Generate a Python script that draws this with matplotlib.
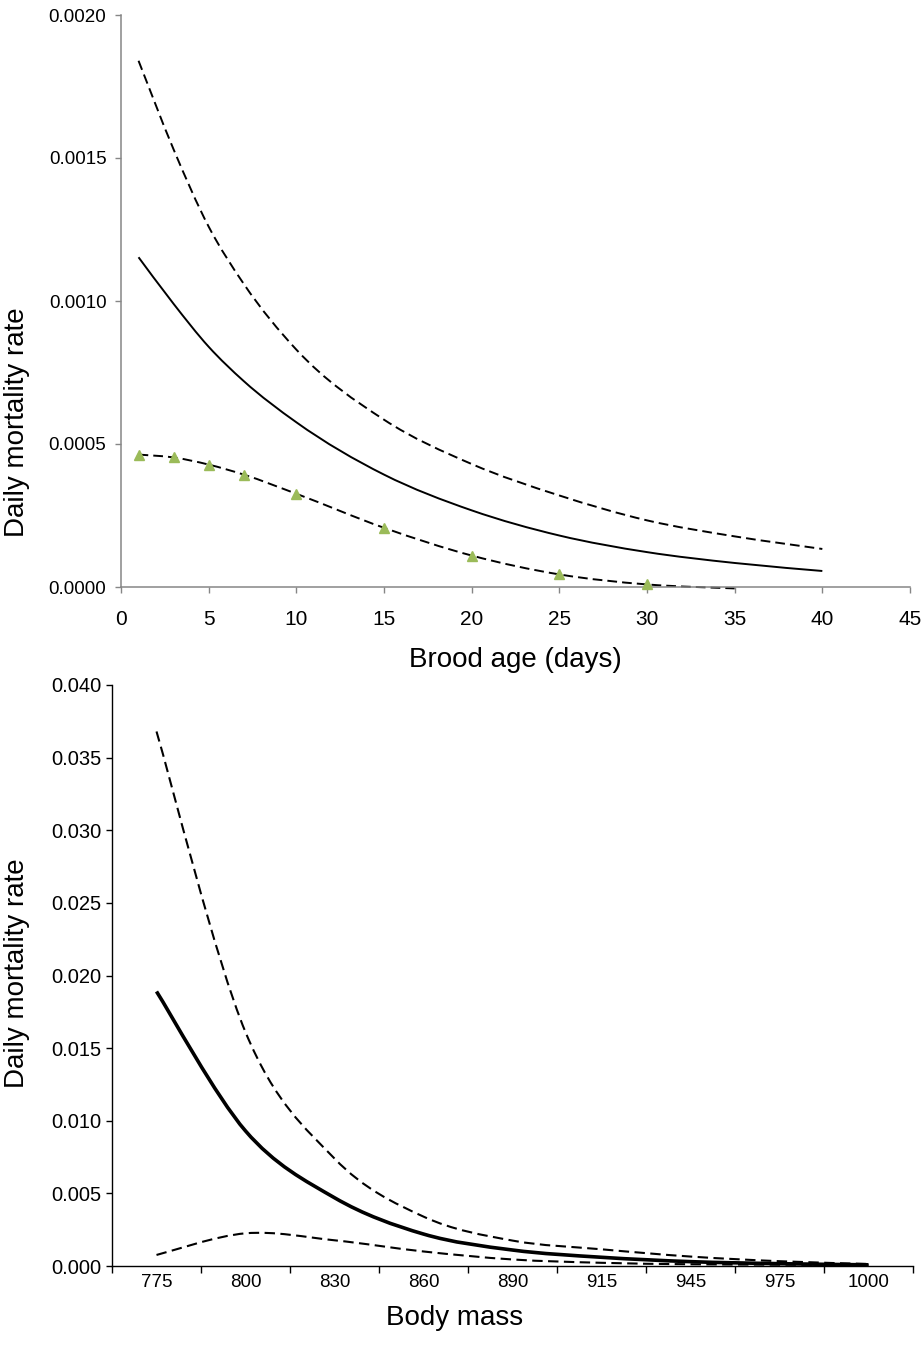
import numpy as np
import matplotlib
matplotlib.use("Agg")
import matplotlib.pyplot as plt
from matplotlib.path import Path
from matplotlib.patches import PathPatch

# ---------------- data ----------------
# Top panel: brood age (days)
brood_age = [1, 3, 5, 7, 10, 15, 20, 25, 30, 35, 40]
upper_age = [0.00184, 0.00153, 0.00126, 0.00106, 0.00083, 0.000585, 0.00043,
             0.00032, 0.000233, 0.000177, 0.000133]
mean_age = [0.001153, 0.00099, 0.00084, 0.00072, 0.000576, 0.000393, 0.000268,
            0.00018, 0.000122, 0.000084, 0.000056]
lower_age_x = [1, 3, 5, 7, 10, 15, 20, 25, 30, 35]
lower_age = [0.000463, 0.000453, 0.000428, 0.000393, 0.000326, 0.000207,
             0.00011, 0.000044, 0.000009, -0.000005]
marker_age_x = [1, 3, 5, 7, 10, 15, 20, 25, 30]
marker_age = [0.000463, 0.000453, 0.000428, 0.000393, 0.000326, 0.000207,
              0.00011, 0.000044, 0.000009]
top_xticks = [0, 5, 10, 15, 20, 25, 30, 35, 40, 45]
top_yticks = [0.0, 0.0005, 0.0010, 0.0015, 0.0020]

# Bottom panel: body mass (category axis)
body_mass = ['775', '800', '830', '860', '890', '915', '945', '975', '1000']
upper_mass = [0.0368, 0.0161, 0.0074, 0.0034, 0.00175, 0.00115, 0.00065,
              0.00033, 0.00014]
mean_mass = [0.0189, 0.0093, 0.0047, 0.0022, 0.0011, 0.0006, 0.0003,
             0.00016, 0.00008]
lower_mass = [0.00076, 0.00225, 0.00177, 0.0010, 0.00045, 0.00022, 0.00012,
              0.00009, 0.00007]
bottom_yticks = [0.0, 0.005, 0.010, 0.015, 0.020, 0.025, 0.030, 0.035, 0.040]

plt.rcParams['font.family'] = ['Liberation Sans', 'DejaVu Sans']


def smooth_path(xs, ys):
    """Smoothed line through the data points, drawn as cubic Bezier segments."""
    x = np.asarray(xs, float)
    y = np.asarray(ys, float)
    n = len(x)
    h = np.diff(x)
    sec = np.diff(y) / h
    m = np.zeros(n)
    for i in range(1, n - 1):
        m[i] = (sec[i - 1] * h[i] + sec[i] * h[i - 1]) / (h[i - 1] + h[i])
    verts = [(x[0], y[0])]
    codes = [Path.MOVETO]
    for i in range(n - 1):
        if i == 0:
            c1 = (x[0] + h[0] / 6, y[0] + (y[1] - y[0]) / 6)
        else:
            c1 = (x[i] + h[i] / 3, y[i] + m[i] * h[i] / 3)
        if i == n - 2:
            c2 = (x[-1] - h[i] / 6, y[-1] - (y[-1] - y[-2]) / 6)
        else:
            c2 = (x[i + 1] - h[i] / 3, y[i + 1] - m[i + 1] * h[i] / 3)
        verts += [c1, c2, (x[i + 1], y[i + 1])]
        codes += [Path.CURVE4] * 3
    return Path(verts, codes)


def draw_smooth(ax, xs, ys, lw, ls):
    patch = PathPatch(smooth_path(xs, ys), facecolor='none', edgecolor='black',
                      lw=lw, linestyle=ls, transform=ax.transData,
                      capstyle='butt', joinstyle='round', clip_on=False)
    ax.add_patch(patch)


W, H = 923, 1348
fig = plt.figure(figsize=(W / 100, H / 100), dpi=100)


def rect(l, t, r, b):
    return [l / W, 1 - b / H, (r - l) / W, (b - t) / H]


dash = (0, (5, 2.6))

# ---------------- top panel ----------------
ax1 = fig.add_axes(rect(121, 15, 910, 587))
ax1.set_xlim(0, 45)
ax1.set_ylim(0, 0.0020)
draw_smooth(ax1, brood_age, upper_age, 1.4, dash)
draw_smooth(ax1, brood_age, mean_age, 1.4, '-')
draw_smooth(ax1, lower_age_x, lower_age, 1.4, dash)
ax1.plot(marker_age_x, marker_age, ls='none', marker='^', ms=6.5,
         color='#9BBB59', mec='#9BBB59', zorder=4, clip_on=False)
ax1.set_xticks(top_xticks)
ax1.set_yticks(top_yticks)
ax1.set_yticklabels([f'{v:.4f}' for v in top_yticks])
for s in ['top', 'right']:
    ax1.spines[s].set_visible(False)
for s in ['left', 'bottom']:
    ax1.spines[s].set_color('#868686')
    ax1.spines[s].set_linewidth(1.1)
ax1.tick_params(axis='y', direction='out', length=4.5, width=1.0,
                color='#868686', labelsize=13.5, pad=6)
ax1.tick_params(axis='x', direction='out', length=4.5, width=1.0,
                color='#868686', labelsize=15, pad=12)

# ---------------- bottom panel ----------------
ax2 = fig.add_axes(rect(112, 685, 913, 1266))
pos = np.arange(len(body_mass))
ax2.set_xlim(-0.5, len(body_mass) - 0.5)
ax2.set_ylim(0, 0.040)
draw_smooth(ax2, pos, upper_mass, 1.5, dash)
draw_smooth(ax2, pos, mean_mass, 2.6, '-')
draw_smooth(ax2, pos, lower_mass, 1.5, dash)
ax2.set_xticks(pos)
ax2.set_xticklabels(body_mass)
ax2.set_xticks(np.arange(len(body_mass) + 1) - 0.5, minor=True)
ax2.tick_params(axis='x', which='major', length=0, pad=6, labelsize=13.5)
ax2.tick_params(axis='x', which='minor', direction='out', length=5, width=1.0)
ax2.set_yticks(bottom_yticks)
ax2.set_yticklabels([f'{v:.3f}' for v in bottom_yticks])
ax2.tick_params(axis='y', direction='out', length=4.5, width=1.0, labelsize=14.5, pad=3)
for s in ['top', 'right']:
    ax2.spines[s].set_visible(False)
for s in ['left', 'bottom']:
    ax2.spines[s].set_color('black')
    ax2.spines[s].set_linewidth(1.0)

# ---------------- axis labels ----------------
fig.text(515 / W, 1 - 660 / H, 'Brood age (days)', ha='center', va='center',
         fontsize=20)
fig.text(455 / W, 1 - 1318 / H, 'Body mass', ha='center', va='center',
         fontsize=20)
fig.text(17 / W, 1 - 422 / H, 'Daily mortality rate', ha='center', va='center',
         rotation=90, fontsize=20)
fig.text(17 / W, 1 - 973 / H, 'Daily mortality rate', ha='center', va='center',
         rotation=90, fontsize=20)

fig.savefig('out.png', dpi=100)
